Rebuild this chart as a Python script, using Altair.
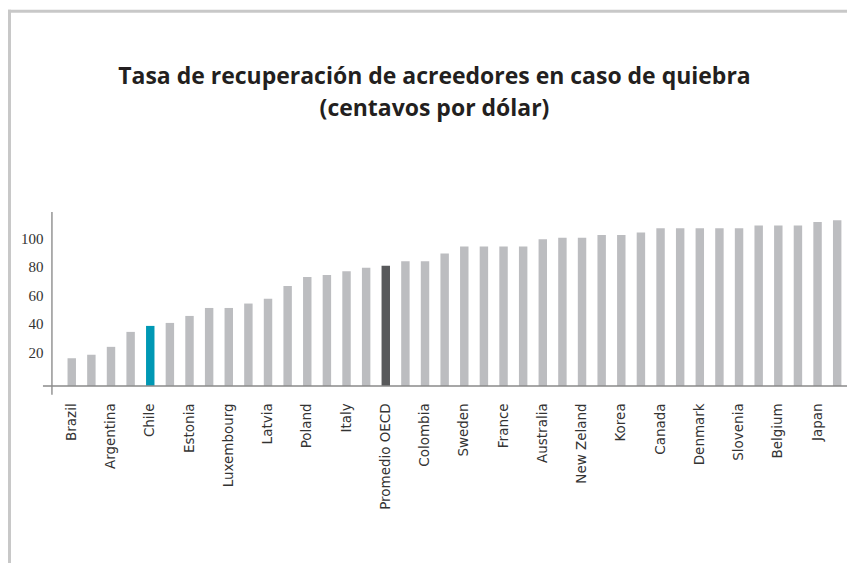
import altair as alt
import pandas as pd

countries = [
    "Brazil", "Turkey", "Argentina", "Hungary", "Chile", "Greece", "Estonia",
    "Slovak Republic", "Luxembourg", "Israel", "Latvia", "Czech Republic",
    "Poland", "Mexico", "Italy", "Switzerland", "Promedio OECD", "Portugal",
    "Colombia", "Spain", "Sweden", "Austria", "France", "Germany", "Australia",
    "Iceland", "New Zeland", "United States", "Korea", "United Kingdom",
    "Canada", "Ireland", "Denmark", "Netherlands", "Slovenia", "Finland",
    "Belgium", "Norway", "Japan", "Singapore",
]
values = [
    19.4, 21.9, 27.4, 37.9, 42.1, 44.2, 49.1, 54.7, 54.7, 57.8,
    61.1, 70.2, 76.5, 77.9, 80.5, 83.0, 84.4, 87.5, 87.5, 92.9,
    97.8, 97.8, 97.8, 97.8, 102.9, 103.9, 103.9, 106.0, 106.0, 107.6,
    110.6, 110.6, 110.6, 110.6, 110.6, 112.5, 112.5, 112.5, 115.1, 116.3,
]
labeled = [
    "Brazil", "Argentina", "Chile", "Estonia", "Luxembourg", "Latvia",
    "Poland", "Italy", "Promedio OECD", "Colombia", "Sweden", "France",
    "Australia", "New Zeland", "Korea", "Canada", "Denmark", "Slovenia",
    "Belgium", "Japan",
]
title_lines = ["Tasa de recuperación de acreedores en caso de quiebra",
               "(centavos por dólar)"]
y_ticks = [20, 40, 60, 80, 100]
groups = ["Chile" if c == "Chile" else ("OECD" if c == "Promedio OECD" else "Otros")
          for c in countries]

df = pd.DataFrame({"pais": countries, "valor": values, "grupo": groups})

W, H = 786, 174

bars = alt.Chart(df).mark_bar().encode(
    x=alt.X("pais:N", sort=countries,
            scale=alt.Scale(paddingInner=0.57, paddingOuter=0.285),
            axis=alt.Axis(values=labeled, title=None, labelAngle=270,
                          labelAlign="right", labelBaseline="middle",
                          labelPadding=17, ticks=False, domain=False,
                          labelFont="DejaVu Sans", labelFontSize=13.5,
                          labelColor="#333333")),
    y=alt.Y("valor:Q", scale=alt.Scale(domain=[0, 122], nice=False),
            axis=alt.Axis(values=y_ticks, title=None, offset=10, domain=False,
                          ticks=False, grid=False, labelPadding=9,
                          labelOffset=-5, labelFont="Liberation Serif",
                          labelFontSize=15, labelColor="#333333")),
    color=alt.Color("grupo:N",
                    scale=alt.Scale(domain=["Otros", "Chile", "OECD"],
                                    range=["#bcbdc0", "#0098b4", "#58595b"]),
                    legend=None),
)

one = pd.DataFrame({"k": [0]})
vline = alt.Chart(one).mark_rule(color="#7a7a7a", strokeWidth=1.2).encode(
    x=alt.value(-10), y=alt.value(0), y2=alt.value(H + 9))
hline = alt.Chart(one).mark_rule(color="#8a8a8a", strokeWidth=1.5).encode(
    x=alt.value(-19), x2=alt.value(W + 2), y=alt.value(H))
top_border = alt.Chart(one).mark_rule(color="#c8c8c8", strokeWidth=3).encode(
    x=alt.value(-54), x2=alt.value(W), y=alt.value(-201))
left_border = alt.Chart(one).mark_rule(color="#c8c8c8", strokeWidth=3).encode(
    x=alt.value(-52.5), y=alt.value(-202.5), y2=alt.value(H + 200))

title1 = alt.Chart(pd.DataFrame({"t": [title_lines[0]]})).mark_text(
    font="Open Sans", fontSize=23, fontWeight="bold", color="#231f20",
    align="center", baseline="alphabetic").encode(
    text="t:N", x=alt.value(373), y=alt.value(-128))
title2 = alt.Chart(pd.DataFrame({"t": [title_lines[1]]})).mark_text(
    font="Open Sans", fontSize=23, fontWeight="bold", color="#231f20",
    align="center", baseline="alphabetic").encode(
    text="t:N", x=alt.value(373), y=alt.value(-96))

chart = alt.layer(bars, vline, hline, top_border, left_border, title1, title2).properties(
    width=W, height=H,
    autosize=alt.AutoSizeParams(type="none"),
    padding={"left": 54, "top": 204, "right": 0, "bottom": 177},
).configure(background="white").configure_view(strokeWidth=0, stroke=None)

chart.save("out.html", embed_options={"renderer": "svg", "actions": False})
